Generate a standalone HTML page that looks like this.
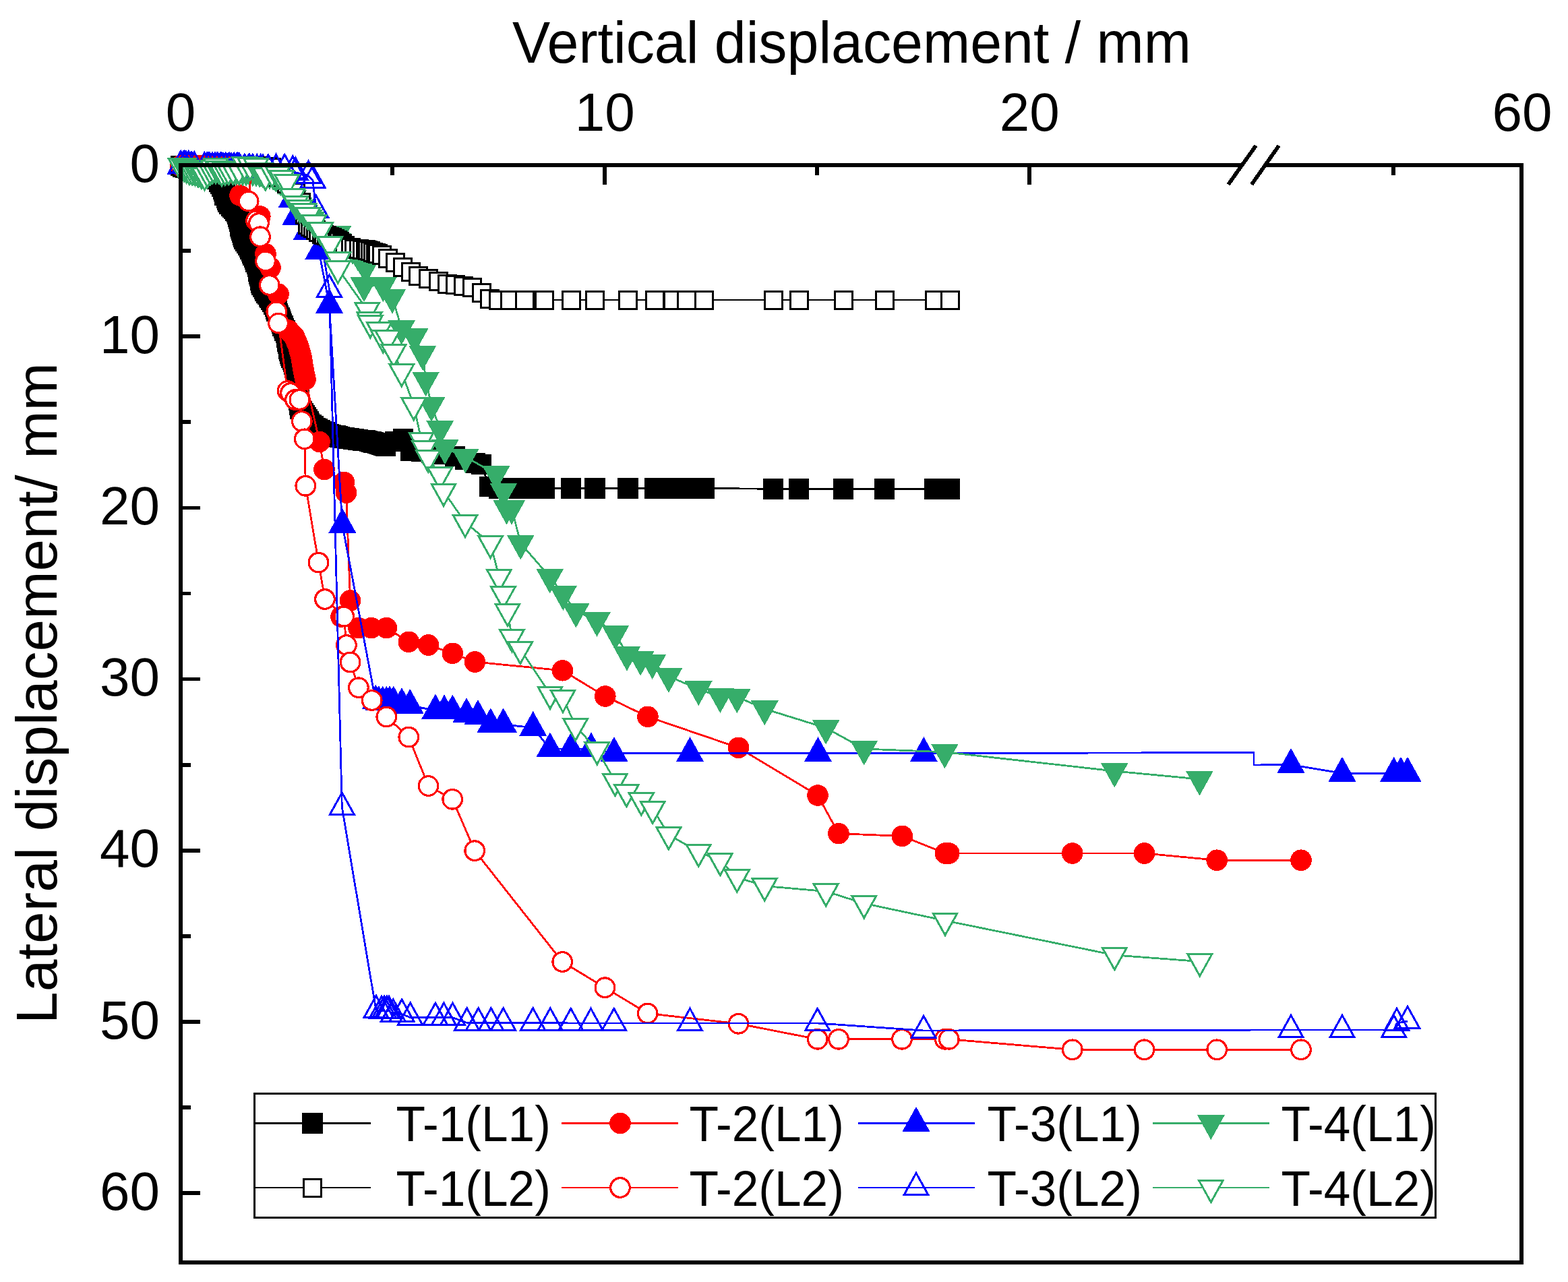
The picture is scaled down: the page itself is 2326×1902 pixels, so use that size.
<!DOCTYPE html><html><head><meta charset="utf-8"><style>html,body{margin:0;padding:0;background:#fff}svg{display:block}text{font-family:"Liberation Sans",Arial,sans-serif;fill:#000}</style></head><body>
<svg xmlns="http://www.w3.org/2000/svg" width="2326" height="1902" viewBox="0 0 2326 1902" shape-rendering="crispEdges">
<rect x="0" y="0" width="2326" height="1902" fill="#fff"/>
<polyline points="268,246 271.5,247.5 275,249 278.8,250 282.5,251 286.2,252 290,253 293,254 296,255 299,256 302,257 305,258 308.3,259.3 311.7,260.7 315,262 318.8,264 322.5,266 324.9,269.4 327.4,272.9 329.2,276.9 331,280.8 331.9,283.8 332.8,286.7 333.7,289.7 336,293.8 337.1,296.6 338.2,299.4 340.6,302.6 343,305.8 345.1,307.9 347.2,309.9 349,312.3 350.9,314.7 352,318.1 353.2,321.5 354.3,324.9 355.1,328.3 355.8,331.8 356.6,335.2 357.3,338.7 358.3,341.9 359.2,345.1 360.2,348.4 361.1,351.6 362.1,354.8 364.1,357.9 366,360.9 368,364 369.8,366.9 371.5,369.9 373.3,372.8 374.5,375.9 375.6,378.9 376.8,381.9 378,385 379.4,388.5 380.9,392.1 382.3,395.6 383,399.2 383.6,402.8 384.3,406.4 385,410 385.9,413.1 386.7,416.2 387.5,419.3 388.4,422.4 390.1,425.4 391.9,428.4 393.6,431.5 395.3,434.5 397.1,437 398.9,439.6 400.7,442.1 402.5,444.6 404.3,448.1 406.2,451.5 408,455 409.2,458.2 410.5,461.5 411.8,464.8 413,468 414.2,471 415.5,474 416.8,477 418,480 419.6,483.4 421.1,486.9 422.6,490.3 424.2,493.7 424.8,497 425.3,500.2 425.9,503.5 426.4,506.7 427,510 427.9,513.7 428.7,517.4 429.5,521.1 430.4,524.8 431.5,527.8 432.7,530.9 433.9,534 435,537 436.1,540.2 437.2,543.4 438.3,546.6 439.4,549.8 439.7,553.2 439.9,556.5 440.2,559.9 440.5,563.3 440.7,566.6 441,570 441.3,573.3 441.7,576.7 442,580 442.3,583.3 442.7,586.7 443,590 443.4,593.4 443.9,596.8 444.3,600.2 444.8,603.6 445.2,607 447.4,610.1 449.5,613.1 451.6,616.2 453.8,619.3 455.5,622.1 457.3,625 459,627.8 461.9,630.1 464.9,632.5 467.8,634.8 471.2,636.5 474.6,638.2 478,639.9 481.4,641.6 484.8,643.3 488,644.1 491.1,645 494.3,645.8 497.5,646.6 500.6,647.5 503.8,648.3 507.2,648.8 510.7,649.4 514.1,649.9 517.5,650.4 520.9,650.9 524.4,651.5 527.8,652 531.2,652.4 534.6,652.8 538,653.2 541.4,653.6 544.8,654 547.8,654.8 550.9,655.5 554,656.2 557,657 560,658 563,659 566,660 569,661 572,662 586,655 598,651 609,669 625,670 640,672 658,674 675,677 690,682 705,687 714,689 726,722 740,724.5 756,724.5 778,724.5 807.5,724.5 847,724.5 882.5,724.5 931.5,724.5 971,724.5 998,724.5 1018.5,724.5 1044.7,724.5 1147,725.3 1185,725.3 1251,725.3 1312,725.3 1386,725.3 1409,725.3" fill="none" stroke="#000" stroke-width="2.8" stroke-linejoin="round"/>
<g fill="#000">
<rect x="252.8" y="230.8" width="30.5" height="30.5"/>
<rect x="256.2" y="232.2" width="30.5" height="30.5"/>
<rect x="259.8" y="233.8" width="30.5" height="30.5"/>
<rect x="263.5" y="234.8" width="30.5" height="30.5"/>
<rect x="267.2" y="235.8" width="30.5" height="30.5"/>
<rect x="271" y="236.8" width="30.5" height="30.5"/>
<rect x="274.8" y="237.8" width="30.5" height="30.5"/>
<rect x="277.8" y="238.8" width="30.5" height="30.5"/>
<rect x="280.8" y="239.8" width="30.5" height="30.5"/>
<rect x="283.8" y="240.8" width="30.5" height="30.5"/>
<rect x="286.8" y="241.8" width="30.5" height="30.5"/>
<rect x="289.8" y="242.8" width="30.5" height="30.5"/>
<rect x="293.1" y="244.1" width="30.5" height="30.5"/>
<rect x="296.4" y="245.4" width="30.5" height="30.5"/>
<rect x="299.8" y="246.8" width="30.5" height="30.5"/>
<rect x="303.5" y="248.8" width="30.5" height="30.5"/>
<rect x="307.2" y="250.8" width="30.5" height="30.5"/>
<rect x="309.7" y="254.2" width="30.5" height="30.5"/>
<rect x="312.1" y="257.6" width="30.5" height="30.5"/>
<rect x="313.9" y="261.6" width="30.5" height="30.5"/>
<rect x="315.8" y="265.6" width="30.5" height="30.5"/>
<rect x="316.6" y="268.5" width="30.5" height="30.5"/>
<rect x="317.6" y="271.5" width="30.5" height="30.5"/>
<rect x="318.4" y="274.4" width="30.5" height="30.5"/>
<rect x="320.8" y="278.6" width="30.5" height="30.5"/>
<rect x="321.9" y="281.4" width="30.5" height="30.5"/>
<rect x="322.9" y="284.1" width="30.5" height="30.5"/>
<rect x="325.4" y="287.4" width="30.5" height="30.5"/>
<rect x="327.8" y="290.6" width="30.5" height="30.5"/>
<rect x="329.9" y="292.6" width="30.5" height="30.5"/>
<rect x="331.9" y="294.6" width="30.5" height="30.5"/>
<rect x="333.8" y="297" width="30.5" height="30.5"/>
<rect x="335.6" y="299.4" width="30.5" height="30.5"/>
<rect x="336.8" y="302.8" width="30.5" height="30.5"/>
<rect x="337.9" y="306.2" width="30.5" height="30.5"/>
<rect x="339.1" y="309.6" width="30.5" height="30.5"/>
<rect x="339.8" y="313.1" width="30.5" height="30.5"/>
<rect x="340.6" y="316.5" width="30.5" height="30.5"/>
<rect x="341.3" y="320" width="30.5" height="30.5"/>
<rect x="342.1" y="323.4" width="30.5" height="30.5"/>
<rect x="343" y="326.7" width="30.5" height="30.5"/>
<rect x="344" y="329.9" width="30.5" height="30.5"/>
<rect x="344.9" y="333.1" width="30.5" height="30.5"/>
<rect x="345.9" y="336.3" width="30.5" height="30.5"/>
<rect x="346.9" y="339.6" width="30.5" height="30.5"/>
<rect x="348.8" y="342.6" width="30.5" height="30.5"/>
<rect x="350.8" y="345.7" width="30.5" height="30.5"/>
<rect x="352.8" y="348.8" width="30.5" height="30.5"/>
<rect x="354.5" y="351.7" width="30.5" height="30.5"/>
<rect x="356.3" y="354.6" width="30.5" height="30.5"/>
<rect x="358.1" y="357.6" width="30.5" height="30.5"/>
<rect x="359.2" y="360.6" width="30.5" height="30.5"/>
<rect x="360.4" y="363.6" width="30.5" height="30.5"/>
<rect x="361.6" y="366.7" width="30.5" height="30.5"/>
<rect x="362.8" y="369.8" width="30.5" height="30.5"/>
<rect x="364.2" y="373.3" width="30.5" height="30.5"/>
<rect x="365.6" y="376.8" width="30.5" height="30.5"/>
<rect x="367.1" y="380.4" width="30.5" height="30.5"/>
<rect x="367.7" y="384" width="30.5" height="30.5"/>
<rect x="368.4" y="387.6" width="30.5" height="30.5"/>
<rect x="369.1" y="391.1" width="30.5" height="30.5"/>
<rect x="369.8" y="394.8" width="30.5" height="30.5"/>
<rect x="370.6" y="397.9" width="30.5" height="30.5"/>
<rect x="371.4" y="400.9" width="30.5" height="30.5"/>
<rect x="372.3" y="404" width="30.5" height="30.5"/>
<rect x="373.1" y="407.1" width="30.5" height="30.5"/>
<rect x="374.9" y="410.2" width="30.5" height="30.5"/>
<rect x="376.6" y="413.2" width="30.5" height="30.5"/>
<rect x="378.3" y="416.2" width="30.5" height="30.5"/>
<rect x="380.1" y="419.2" width="30.5" height="30.5"/>
<rect x="381.9" y="421.8" width="30.5" height="30.5"/>
<rect x="383.6" y="424.3" width="30.5" height="30.5"/>
<rect x="385.4" y="426.8" width="30.5" height="30.5"/>
<rect x="387.2" y="429.4" width="30.5" height="30.5"/>
<rect x="389.1" y="432.8" width="30.5" height="30.5"/>
<rect x="390.9" y="436.3" width="30.5" height="30.5"/>
<rect x="392.8" y="439.8" width="30.5" height="30.5"/>
<rect x="394" y="443" width="30.5" height="30.5"/>
<rect x="395.2" y="446.2" width="30.5" height="30.5"/>
<rect x="396.5" y="449.5" width="30.5" height="30.5"/>
<rect x="397.8" y="452.8" width="30.5" height="30.5"/>
<rect x="399" y="455.8" width="30.5" height="30.5"/>
<rect x="400.2" y="458.8" width="30.5" height="30.5"/>
<rect x="401.5" y="461.8" width="30.5" height="30.5"/>
<rect x="402.8" y="464.8" width="30.5" height="30.5"/>
<rect x="404.3" y="468.2" width="30.5" height="30.5"/>
<rect x="405.9" y="471.6" width="30.5" height="30.5"/>
<rect x="407.4" y="475" width="30.5" height="30.5"/>
<rect x="408.9" y="478.4" width="30.5" height="30.5"/>
<rect x="409.5" y="481.7" width="30.5" height="30.5"/>
<rect x="410.1" y="485" width="30.5" height="30.5"/>
<rect x="410.6" y="488.2" width="30.5" height="30.5"/>
<rect x="411.2" y="491.5" width="30.5" height="30.5"/>
<rect x="411.8" y="494.8" width="30.5" height="30.5"/>
<rect x="412.6" y="498.5" width="30.5" height="30.5"/>
<rect x="413.4" y="502.1" width="30.5" height="30.5"/>
<rect x="414.3" y="505.8" width="30.5" height="30.5"/>
<rect x="415.1" y="509.5" width="30.5" height="30.5"/>
<rect x="416.3" y="512.6" width="30.5" height="30.5"/>
<rect x="417.4" y="515.6" width="30.5" height="30.5"/>
<rect x="418.6" y="518.7" width="30.5" height="30.5"/>
<rect x="419.8" y="521.8" width="30.5" height="30.5"/>
<rect x="420.9" y="525" width="30.5" height="30.5"/>
<rect x="421.9" y="528.1" width="30.5" height="30.5"/>
<rect x="423" y="531.3" width="30.5" height="30.5"/>
<rect x="424.1" y="534.5" width="30.5" height="30.5"/>
<rect x="424.4" y="537.9" width="30.5" height="30.5"/>
<rect x="424.7" y="541.3" width="30.5" height="30.5"/>
<rect x="424.9" y="544.6" width="30.5" height="30.5"/>
<rect x="425.2" y="548" width="30.5" height="30.5"/>
<rect x="425.5" y="551.4" width="30.5" height="30.5"/>
<rect x="425.8" y="554.8" width="30.5" height="30.5"/>
<rect x="426.1" y="558.1" width="30.5" height="30.5"/>
<rect x="426.4" y="561.4" width="30.5" height="30.5"/>
<rect x="426.8" y="564.8" width="30.5" height="30.5"/>
<rect x="427.1" y="568.1" width="30.5" height="30.5"/>
<rect x="427.4" y="571.4" width="30.5" height="30.5"/>
<rect x="427.8" y="574.8" width="30.5" height="30.5"/>
<rect x="428.2" y="578.1" width="30.5" height="30.5"/>
<rect x="428.6" y="581.5" width="30.5" height="30.5"/>
<rect x="429.1" y="585" width="30.5" height="30.5"/>
<rect x="429.5" y="588.4" width="30.5" height="30.5"/>
<rect x="429.9" y="591.8" width="30.5" height="30.5"/>
<rect x="432.1" y="594.8" width="30.5" height="30.5"/>
<rect x="434.2" y="597.9" width="30.5" height="30.5"/>
<rect x="436.4" y="601" width="30.5" height="30.5"/>
<rect x="438.6" y="604" width="30.5" height="30.5"/>
<rect x="440.3" y="606.9" width="30.5" height="30.5"/>
<rect x="442" y="609.7" width="30.5" height="30.5"/>
<rect x="443.8" y="612.5" width="30.5" height="30.5"/>
<rect x="446.7" y="614.9" width="30.5" height="30.5"/>
<rect x="449.6" y="617.2" width="30.5" height="30.5"/>
<rect x="452.6" y="619.5" width="30.5" height="30.5"/>
<rect x="455.9" y="621.2" width="30.5" height="30.5"/>
<rect x="459.4" y="622.9" width="30.5" height="30.5"/>
<rect x="462.8" y="624.6" width="30.5" height="30.5"/>
<rect x="466.2" y="626.3" width="30.5" height="30.5"/>
<rect x="469.6" y="628" width="30.5" height="30.5"/>
<rect x="472.7" y="628.9" width="30.5" height="30.5"/>
<rect x="475.9" y="629.7" width="30.5" height="30.5"/>
<rect x="479.1" y="630.5" width="30.5" height="30.5"/>
<rect x="482.2" y="631.4" width="30.5" height="30.5"/>
<rect x="485.4" y="632.2" width="30.5" height="30.5"/>
<rect x="488.6" y="633" width="30.5" height="30.5"/>
<rect x="492" y="633.6" width="30.5" height="30.5"/>
<rect x="495.4" y="634.1" width="30.5" height="30.5"/>
<rect x="498.8" y="634.6" width="30.5" height="30.5"/>
<rect x="502.3" y="635.2" width="30.5" height="30.5"/>
<rect x="505.7" y="635.7" width="30.5" height="30.5"/>
<rect x="509.1" y="636.2" width="30.5" height="30.5"/>
<rect x="512.5" y="636.8" width="30.5" height="30.5"/>
<rect x="515.9" y="637.1" width="30.5" height="30.5"/>
<rect x="519.3" y="637.5" width="30.5" height="30.5"/>
<rect x="522.8" y="638" width="30.5" height="30.5"/>
<rect x="526.1" y="638.4" width="30.5" height="30.5"/>
<rect x="529.5" y="638.8" width="30.5" height="30.5"/>
<rect x="532.6" y="639.5" width="30.5" height="30.5"/>
<rect x="535.6" y="640.2" width="30.5" height="30.5"/>
<rect x="538.7" y="641" width="30.5" height="30.5"/>
<rect x="541.8" y="641.8" width="30.5" height="30.5"/>
<rect x="544.8" y="642.8" width="30.5" height="30.5"/>
<rect x="547.8" y="643.8" width="30.5" height="30.5"/>
<rect x="550.8" y="644.8" width="30.5" height="30.5"/>
<rect x="553.8" y="645.8" width="30.5" height="30.5"/>
<rect x="556.8" y="646.8" width="30.5" height="30.5"/>
<rect x="570.8" y="639.8" width="30.5" height="30.5"/>
<rect x="582.8" y="635.8" width="30.5" height="30.5"/>
<rect x="593.8" y="653.8" width="30.5" height="30.5"/>
<rect x="609.8" y="654.8" width="30.5" height="30.5"/>
<rect x="624.8" y="656.8" width="30.5" height="30.5"/>
<rect x="642.8" y="658.8" width="30.5" height="30.5"/>
<rect x="659.8" y="661.8" width="30.5" height="30.5"/>
<rect x="674.8" y="666.8" width="30.5" height="30.5"/>
<rect x="689.8" y="671.8" width="30.5" height="30.5"/>
<rect x="698.8" y="673.8" width="30.5" height="30.5"/>
<rect x="710.8" y="706.8" width="30.5" height="30.5"/>
<rect x="724.8" y="709.2" width="30.5" height="30.5"/>
<rect x="740.8" y="709.2" width="30.5" height="30.5"/>
<rect x="762.8" y="709.2" width="30.5" height="30.5"/>
<rect x="792.2" y="709.2" width="30.5" height="30.5"/>
<rect x="831.8" y="709.2" width="30.5" height="30.5"/>
<rect x="867.2" y="709.2" width="30.5" height="30.5"/>
<rect x="916.2" y="709.2" width="30.5" height="30.5"/>
<rect x="955.8" y="709.2" width="30.5" height="30.5"/>
<rect x="982.8" y="709.2" width="30.5" height="30.5"/>
<rect x="1003.2" y="709.2" width="30.5" height="30.5"/>
<rect x="1029.5" y="709.2" width="30.5" height="30.5"/>
<rect x="1131.8" y="710" width="30.5" height="30.5"/>
<rect x="1169.8" y="710" width="30.5" height="30.5"/>
<rect x="1235.8" y="710" width="30.5" height="30.5"/>
<rect x="1296.8" y="710" width="30.5" height="30.5"/>
<rect x="1370.8" y="710" width="30.5" height="30.5"/>
<rect x="1393.8" y="710" width="30.5" height="30.5"/>
</g>
<polyline points="268,246 278,247 292,247 306,247 320,247 334,248 345,256 356,290 385.8,321 394,376.7 401,397 413,436.3 428,490 431,493.3 434,496.7 437,500 438.5,503.8 440,507.5 441.5,511.2 443,515 444,518.8 445,522.5 446,526.2 447,530 447.6,533.6 448.2,537.2 448.8,540.8 449.4,544.4 450,548 450.8,551.8 451.5,555.5 452.2,559.2 453,563 474,655.5 481,696.5 510.4,715.5 513.5,731 519.6,891 506,915 531.9,931.6 550.7,931.6 573.3,931.6 606.3,952.3 635.5,957 671.3,969.3 704.4,982 834.5,994.8 897.8,1033 960.9,1063.3 1095.5,1109.3 1213,1180 1244,1236.7 1338.3,1240.4 1402.3,1266 1407.8,1266 1590.8,1266 1697.5,1266 1805.2,1276.2 1930,1276.2" fill="none" stroke="#f00" stroke-width="2.8" stroke-linejoin="round"/>
<g fill="#f00">
<circle cx="268" cy="246" r="15.8"/>
<circle cx="278" cy="247" r="15.8"/>
<circle cx="292" cy="247" r="15.8"/>
<circle cx="306" cy="247" r="15.8"/>
<circle cx="320" cy="247" r="15.8"/>
<circle cx="334" cy="248" r="15.8"/>
<circle cx="345" cy="256" r="15.8"/>
<circle cx="356" cy="290" r="15.8"/>
<circle cx="385.8" cy="321" r="15.8"/>
<circle cx="394" cy="376.7" r="15.8"/>
<circle cx="401" cy="397" r="15.8"/>
<circle cx="413" cy="436.3" r="15.8"/>
<circle cx="428" cy="490" r="15.8"/>
<circle cx="431" cy="493.3" r="15.8"/>
<circle cx="434" cy="496.7" r="15.8"/>
<circle cx="437" cy="500" r="15.8"/>
<circle cx="438.5" cy="503.8" r="15.8"/>
<circle cx="440" cy="507.5" r="15.8"/>
<circle cx="441.5" cy="511.2" r="15.8"/>
<circle cx="443" cy="515" r="15.8"/>
<circle cx="444" cy="518.8" r="15.8"/>
<circle cx="445" cy="522.5" r="15.8"/>
<circle cx="446" cy="526.2" r="15.8"/>
<circle cx="447" cy="530" r="15.8"/>
<circle cx="447.6" cy="533.6" r="15.8"/>
<circle cx="448.2" cy="537.2" r="15.8"/>
<circle cx="448.8" cy="540.8" r="15.8"/>
<circle cx="449.4" cy="544.4" r="15.8"/>
<circle cx="450" cy="548" r="15.8"/>
<circle cx="450.8" cy="551.8" r="15.8"/>
<circle cx="451.5" cy="555.5" r="15.8"/>
<circle cx="452.2" cy="559.2" r="15.8"/>
<circle cx="453" cy="563" r="15.8"/>
<circle cx="474" cy="655.5" r="15.8"/>
<circle cx="481" cy="696.5" r="15.8"/>
<circle cx="510.4" cy="715.5" r="15.8"/>
<circle cx="513.5" cy="731" r="15.8"/>
<circle cx="519.6" cy="891" r="15.8"/>
<circle cx="506" cy="915" r="15.8"/>
<circle cx="531.9" cy="931.6" r="15.8"/>
<circle cx="550.7" cy="931.6" r="15.8"/>
<circle cx="573.3" cy="931.6" r="15.8"/>
<circle cx="606.3" cy="952.3" r="15.8"/>
<circle cx="635.5" cy="957" r="15.8"/>
<circle cx="671.3" cy="969.3" r="15.8"/>
<circle cx="704.4" cy="982" r="15.8"/>
<circle cx="834.5" cy="994.8" r="15.8"/>
<circle cx="897.8" cy="1033" r="15.8"/>
<circle cx="960.9" cy="1063.3" r="15.8"/>
<circle cx="1095.5" cy="1109.3" r="15.8"/>
<circle cx="1213" cy="1180" r="15.8"/>
<circle cx="1244" cy="1236.7" r="15.8"/>
<circle cx="1338.3" cy="1240.4" r="15.8"/>
<circle cx="1402.3" cy="1266" r="15.8"/>
<circle cx="1407.8" cy="1266" r="15.8"/>
<circle cx="1590.8" cy="1266" r="15.8"/>
<circle cx="1697.5" cy="1266" r="15.8"/>
<circle cx="1805.2" cy="1276.2" r="15.8"/>
<circle cx="1930" cy="1276.2" r="15.8"/>
</g>
<polyline points="268,246.5 272,246.7 276,246.9 280,247.1 284,247.3 288,247.5 303,249 307,249 311,249.1 315,249.1 319,249.2 323,249.2 327,249.2 331,249.3 335,249.3 339,249.3 343,249.4 347,249.4 351,249.5 355,249.5 370,251 390,252 410,255 433,296 439,321.3 455,344 473,372.2 488.5,452.4 507.8,778.4 557.3,1040 562,1042 567.7,1042 573.3,1042 578,1042 583.7,1042 596,1044.8 608.2,1046.6 645.9,1054.2 659,1055.1 671.3,1055.1 692,1059.8 709,1062.6 727.8,1074.9 746.7,1074.9 790.7,1079.6 815.9,1111 847,1111 877,1111 911,1117.6 1023.5,1117.6 1213.5,1117.7 1370.3,1117.7 1860,1116.5 1860,1135 1915,1134.5 1991,1147.3 2067.7,1147.3 2078,1147.3 2088,1147.3" fill="none" stroke="#00f" stroke-width="2.8" stroke-linejoin="round"/>
<g fill="#00f">
<polygon points="268,221.9 247.5,258.8 288.5,258.8"/>
<polygon points="272,222.1 251.5,259 292.5,259"/>
<polygon points="276,222.3 255.5,259.2 296.5,259.2"/>
<polygon points="280,222.5 259.5,259.4 300.5,259.4"/>
<polygon points="284,222.7 263.5,259.6 304.5,259.6"/>
<polygon points="288,222.9 267.5,259.8 308.5,259.8"/>
<polygon points="303,224.4 282.5,261.3 323.5,261.3"/>
<polygon points="307,224.4 286.5,261.3 327.5,261.3"/>
<polygon points="311,224.5 290.5,261.4 331.5,261.4"/>
<polygon points="315,224.5 294.5,261.4 335.5,261.4"/>
<polygon points="319,224.6 298.5,261.5 339.5,261.5"/>
<polygon points="323,224.6 302.5,261.5 343.5,261.5"/>
<polygon points="327,224.6 306.5,261.5 347.5,261.5"/>
<polygon points="331,224.7 310.5,261.6 351.5,261.6"/>
<polygon points="335,224.7 314.5,261.6 355.5,261.6"/>
<polygon points="339,224.7 318.5,261.6 359.5,261.6"/>
<polygon points="343,224.8 322.5,261.7 363.5,261.7"/>
<polygon points="347,224.8 326.5,261.7 367.5,261.7"/>
<polygon points="351,224.9 330.5,261.8 371.5,261.8"/>
<polygon points="355,224.9 334.5,261.8 375.5,261.8"/>
<polygon points="370,226.4 349.5,263.3 390.5,263.3"/>
<polygon points="390,227.4 369.5,264.3 410.5,264.3"/>
<polygon points="410,230.4 389.5,267.3 430.5,267.3"/>
<polygon points="433,271.4 412.5,308.3 453.5,308.3"/>
<polygon points="439,296.7 418.5,333.6 459.5,333.6"/>
<polygon points="455,319.4 434.5,356.3 475.5,356.3"/>
<polygon points="473,347.6 452.5,384.5 493.5,384.5"/>
<polygon points="488.5,427.8 468,464.7 509,464.7"/>
<polygon points="507.8,753.8 487.3,790.7 528.3,790.7"/>
<polygon points="557.3,1015.4 536.8,1052.3 577.8,1052.3"/>
<polygon points="562,1017.4 541.5,1054.3 582.5,1054.3"/>
<polygon points="567.7,1017.4 547.2,1054.3 588.2,1054.3"/>
<polygon points="573.3,1017.4 552.8,1054.3 593.8,1054.3"/>
<polygon points="578,1017.4 557.5,1054.3 598.5,1054.3"/>
<polygon points="583.7,1017.4 563.2,1054.3 604.2,1054.3"/>
<polygon points="596,1020.2 575.5,1057.1 616.5,1057.1"/>
<polygon points="608.2,1022 587.7,1058.9 628.7,1058.9"/>
<polygon points="645.9,1029.6 625.4,1066.5 666.4,1066.5"/>
<polygon points="659,1030.5 638.5,1067.4 679.5,1067.4"/>
<polygon points="671.3,1030.5 650.8,1067.4 691.8,1067.4"/>
<polygon points="692,1035.2 671.5,1072.1 712.5,1072.1"/>
<polygon points="709,1038 688.5,1074.9 729.5,1074.9"/>
<polygon points="727.8,1050.3 707.3,1087.2 748.3,1087.2"/>
<polygon points="746.7,1050.3 726.2,1087.2 767.2,1087.2"/>
<polygon points="790.7,1055 770.2,1091.9 811.2,1091.9"/>
<polygon points="815.9,1086.4 795.4,1123.3 836.4,1123.3"/>
<polygon points="847,1086.4 826.5,1123.3 867.5,1123.3"/>
<polygon points="877,1086.4 856.5,1123.3 897.5,1123.3"/>
<polygon points="911,1093 890.5,1129.9 931.5,1129.9"/>
<polygon points="1023.5,1093 1003,1129.9 1044,1129.9"/>
<polygon points="1213.5,1093.1 1193,1130 1234,1130"/>
<polygon points="1370.3,1093.1 1349.8,1130 1390.8,1130"/>
<polygon points="1915,1109.9 1894.5,1146.8 1935.5,1146.8"/>
<polygon points="1991,1122.7 1970.5,1159.6 2011.5,1159.6"/>
<polygon points="2067.7,1122.7 2047.2,1159.6 2088.2,1159.6"/>
<polygon points="2078,1122.7 2057.5,1159.6 2098.5,1159.6"/>
<polygon points="2088,1122.7 2067.5,1159.6 2108.5,1159.6"/>
</g>
<polyline points="268,246 273.3,246.7 278.7,247.3 284,248 289.3,248.7 294.7,249.3 300,250 305,250.1 310,250.2 315,250.4 320,250.5 325,250.6 330,250.8 335,250.9 340,251 345,251.2 350,251.5 355,251.8 360,252 365,252.2 370,252.5 375,252.8 380,253 385,254 390,255 395,256 400,257 405,258 408.8,261 412.5,264 416.2,267 420,270 422.4,274 424.8,278 427.2,282 429.6,286 432,290 434.7,294 437.3,298 440,302 443,305.5 446,309 449,312.5 452,316 455.2,319.5 458.5,323 461.8,326.5 465,330 500.9,347.3 500.5,358.3 523,368 531,378 542.4,397 540,423.5 568.3,423.5 582,441 595.6,487.2 615,499.5 626.9,525.1 631.6,563.8 640,601.3 652.7,636.3 660,664.7 690.3,677.8 736,703.4 746.9,728.8 751.6,754 759,754 772.3,806 815.7,856 835.4,881.4 854.3,906.9 885.5,920.3 913,940 930,971 950.2,978 967.7,983.3 991.9,1003.3 1036.2,1022.5 1068.4,1033.5 1093.3,1033.8 1134.2,1051.7 1225.2,1080 1281.7,1111 1401.4,1115.8 1653.3,1144 1779.4,1156" fill="none" stroke="#36AD6A" stroke-width="2.8" stroke-linejoin="round"/>
<g fill="#36AD6A">
<polygon points="268,270.6 247.5,233.7 288.5,233.7"/>
<polygon points="273.3,271.3 252.8,234.4 293.8,234.4"/>
<polygon points="278.7,271.9 258.2,235 299.2,235"/>
<polygon points="284,272.6 263.5,235.7 304.5,235.7"/>
<polygon points="289.3,273.3 268.8,236.4 309.8,236.4"/>
<polygon points="294.7,273.9 274.2,237 315.2,237"/>
<polygon points="300,274.6 279.5,237.7 320.5,237.7"/>
<polygon points="305,274.7 284.5,237.8 325.5,237.8"/>
<polygon points="310,274.9 289.5,237.9 330.5,237.9"/>
<polygon points="315,275 294.5,238.1 335.5,238.1"/>
<polygon points="320,275.1 299.5,238.2 340.5,238.2"/>
<polygon points="325,275.2 304.5,238.3 345.5,238.3"/>
<polygon points="330,275.4 309.5,238.4 350.5,238.4"/>
<polygon points="335,275.5 314.5,238.6 355.5,238.6"/>
<polygon points="340,275.6 319.5,238.7 360.5,238.7"/>
<polygon points="345,275.9 324.5,238.9 365.5,238.9"/>
<polygon points="350,276.1 329.5,239.2 370.5,239.2"/>
<polygon points="355,276.4 334.5,239.4 375.5,239.4"/>
<polygon points="360,276.6 339.5,239.7 380.5,239.7"/>
<polygon points="365,276.9 344.5,239.9 385.5,239.9"/>
<polygon points="370,277.1 349.5,240.2 390.5,240.2"/>
<polygon points="375,277.4 354.5,240.4 395.5,240.4"/>
<polygon points="380,277.6 359.5,240.7 400.5,240.7"/>
<polygon points="385,278.6 364.5,241.7 405.5,241.7"/>
<polygon points="390,279.6 369.5,242.7 410.5,242.7"/>
<polygon points="395,280.6 374.5,243.7 415.5,243.7"/>
<polygon points="400,281.6 379.5,244.7 420.5,244.7"/>
<polygon points="405,282.6 384.5,245.7 425.5,245.7"/>
<polygon points="408.8,285.6 388.2,248.7 429.2,248.7"/>
<polygon points="412.5,288.6 392,251.7 433,251.7"/>
<polygon points="416.2,291.6 395.8,254.7 436.8,254.7"/>
<polygon points="420,294.6 399.5,257.7 440.5,257.7"/>
<polygon points="422.4,298.6 401.9,261.7 442.9,261.7"/>
<polygon points="424.8,302.6 404.3,265.7 445.3,265.7"/>
<polygon points="427.2,306.6 406.7,269.7 447.7,269.7"/>
<polygon points="429.6,310.6 409.1,273.7 450.1,273.7"/>
<polygon points="432,314.6 411.5,277.7 452.5,277.7"/>
<polygon points="434.7,318.6 414.2,281.7 455.2,281.7"/>
<polygon points="437.3,322.6 416.8,285.7 457.8,285.7"/>
<polygon points="440,326.6 419.5,289.7 460.5,289.7"/>
<polygon points="443,330.1 422.5,293.2 463.5,293.2"/>
<polygon points="446,333.6 425.5,296.7 466.5,296.7"/>
<polygon points="449,337.1 428.5,300.2 469.5,300.2"/>
<polygon points="452,340.6 431.5,303.7 472.5,303.7"/>
<polygon points="455.2,344.1 434.8,307.2 475.8,307.2"/>
<polygon points="458.5,347.6 438,310.7 479,310.7"/>
<polygon points="461.8,351.1 441.2,314.2 482.2,314.2"/>
<polygon points="465,354.6 444.5,317.7 485.5,317.7"/>
<polygon points="500.9,371.9 480.4,335 521.4,335"/>
<polygon points="500.5,382.9 480,346 521,346"/>
<polygon points="523,392.6 502.5,355.7 543.5,355.7"/>
<polygon points="531,402.6 510.5,365.7 551.5,365.7"/>
<polygon points="542.4,421.6 521.9,384.7 562.9,384.7"/>
<polygon points="540,448.1 519.5,411.2 560.5,411.2"/>
<polygon points="568.3,448.1 547.8,411.2 588.8,411.2"/>
<polygon points="582,465.6 561.5,428.7 602.5,428.7"/>
<polygon points="595.6,511.8 575.1,474.9 616.1,474.9"/>
<polygon points="615,524.1 594.5,487.2 635.5,487.2"/>
<polygon points="626.9,549.7 606.4,512.8 647.4,512.8"/>
<polygon points="631.6,588.4 611.1,551.5 652.1,551.5"/>
<polygon points="640,625.9 619.5,589 660.5,589"/>
<polygon points="652.7,660.9 632.2,624 673.2,624"/>
<polygon points="660,689.3 639.5,652.4 680.5,652.4"/>
<polygon points="690.3,702.4 669.8,665.5 710.8,665.5"/>
<polygon points="736,728 715.5,691.1 756.5,691.1"/>
<polygon points="746.9,753.4 726.4,716.5 767.4,716.5"/>
<polygon points="751.6,778.6 731.1,741.7 772.1,741.7"/>
<polygon points="759,778.6 738.5,741.7 779.5,741.7"/>
<polygon points="772.3,830.6 751.8,793.7 792.8,793.7"/>
<polygon points="815.7,880.6 795.2,843.7 836.2,843.7"/>
<polygon points="835.4,906 814.9,869.1 855.9,869.1"/>
<polygon points="854.3,931.5 833.8,894.6 874.8,894.6"/>
<polygon points="885.5,944.9 865,908 906,908"/>
<polygon points="913,964.6 892.5,927.7 933.5,927.7"/>
<polygon points="930,995.6 909.5,958.7 950.5,958.7"/>
<polygon points="950.2,1002.6 929.7,965.7 970.7,965.7"/>
<polygon points="967.7,1007.9 947.2,971 988.2,971"/>
<polygon points="991.9,1027.9 971.4,991 1012.4,991"/>
<polygon points="1036.2,1047.1 1015.7,1010.2 1056.7,1010.2"/>
<polygon points="1068.4,1058.1 1047.9,1021.2 1088.9,1021.2"/>
<polygon points="1093.3,1058.4 1072.8,1021.5 1113.8,1021.5"/>
<polygon points="1134.2,1076.3 1113.7,1039.4 1154.7,1039.4"/>
<polygon points="1225.2,1104.6 1204.7,1067.7 1245.7,1067.7"/>
<polygon points="1281.7,1135.6 1261.2,1098.7 1302.2,1098.7"/>
<polygon points="1401.4,1140.4 1380.9,1103.5 1421.9,1103.5"/>
<polygon points="1653.3,1168.6 1632.8,1131.7 1673.8,1131.7"/>
<polygon points="1779.4,1180.6 1758.9,1143.7 1799.9,1143.7"/>
</g>
<polyline points="268,246 273.3,246 278.7,246 284,246 289.3,246 294.7,246 300,246 305,246 310,246 315,246 320,246 325,246 330,246 335,246 340,246 345,246 350,246 355,246 360,246 365,246 370,246 375,246 380,246 385.5,246.5 391,247 396.5,247.5 402,248 412,262 425,272 438,285 446,300 452,318 456,328 456.8,333.7 460.7,336.1 464.5,338.6 468.4,341 472.8,344 477.1,347 480.7,348.3 484.4,349.7 488,351 492,352.7 496,354.3 500,356 503.9,358.8 507.9,361.7 511.8,364.5 520.1,367.2 525.3,369.1 532.9,369.5 537.4,370.3 542.3,370.8 545.3,371.4 549.5,372.5 553.2,374 557.4,375 560.4,376.3 566.8,378.5 575.8,383.5 586.8,389.6 597.7,396.6 609,403.8 620,409 635,413.5 650,417 663.5,421 675,422.5 687.5,424.6 700,426.5 714,434 726,443.5 739.5,445 756,445 778,445 807.5,445 847,445 882.5,445 931.5,445 971,445 998,445 1018.5,445 1044.7,445 1147,445 1185,445 1251,445 1312,445 1386,445 1409,445" fill="none" stroke="#000" stroke-width="2.8" stroke-linejoin="round"/>
<g fill="#fff" stroke="#000" stroke-width="3">
<rect x="255" y="233" width="26" height="26"/>
<rect x="260.3" y="233" width="26" height="26"/>
<rect x="265.7" y="233" width="26" height="26"/>
<rect x="271" y="233" width="26" height="26"/>
<rect x="276.3" y="233" width="26" height="26"/>
<rect x="281.7" y="233" width="26" height="26"/>
<rect x="287" y="233" width="26" height="26"/>
<rect x="292" y="233" width="26" height="26"/>
<rect x="297" y="233" width="26" height="26"/>
<rect x="302" y="233" width="26" height="26"/>
<rect x="307" y="233" width="26" height="26"/>
<rect x="312" y="233" width="26" height="26"/>
<rect x="317" y="233" width="26" height="26"/>
<rect x="322" y="233" width="26" height="26"/>
<rect x="327" y="233" width="26" height="26"/>
<rect x="332" y="233" width="26" height="26"/>
<rect x="337" y="233" width="26" height="26"/>
<rect x="342" y="233" width="26" height="26"/>
<rect x="347" y="233" width="26" height="26"/>
<rect x="352" y="233" width="26" height="26"/>
<rect x="357" y="233" width="26" height="26"/>
<rect x="362" y="233" width="26" height="26"/>
<rect x="367" y="233" width="26" height="26"/>
<rect x="372.5" y="233.5" width="26" height="26"/>
<rect x="378" y="234" width="26" height="26"/>
<rect x="383.5" y="234.5" width="26" height="26"/>
<rect x="389" y="235" width="26" height="26"/>
<rect x="399" y="249" width="26" height="26"/>
<rect x="412" y="259" width="26" height="26"/>
<rect x="425" y="272" width="26" height="26"/>
<rect x="433" y="287" width="26" height="26"/>
<rect x="439" y="305" width="26" height="26"/>
<rect x="443" y="315" width="26" height="26"/>
<rect x="443.8" y="320.7" width="26" height="26"/>
<rect x="447.7" y="323.1" width="26" height="26"/>
<rect x="451.5" y="325.6" width="26" height="26"/>
<rect x="455.4" y="328" width="26" height="26"/>
<rect x="459.8" y="331" width="26" height="26"/>
<rect x="464.1" y="334" width="26" height="26"/>
<rect x="467.7" y="335.3" width="26" height="26"/>
<rect x="471.4" y="336.7" width="26" height="26"/>
<rect x="475" y="338" width="26" height="26"/>
<rect x="479" y="339.7" width="26" height="26"/>
<rect x="483" y="341.3" width="26" height="26"/>
<rect x="487" y="343" width="26" height="26"/>
<rect x="490.9" y="345.8" width="26" height="26"/>
<rect x="494.9" y="348.7" width="26" height="26"/>
<rect x="498.8" y="351.5" width="26" height="26"/>
<rect x="507.1" y="354.2" width="26" height="26"/>
<rect x="512.3" y="356.1" width="26" height="26"/>
<rect x="519.9" y="356.5" width="26" height="26"/>
<rect x="524.4" y="357.3" width="26" height="26"/>
<rect x="529.3" y="357.8" width="26" height="26"/>
<rect x="532.3" y="358.4" width="26" height="26"/>
<rect x="536.5" y="359.5" width="26" height="26"/>
<rect x="540.2" y="361" width="26" height="26"/>
<rect x="544.4" y="362" width="26" height="26"/>
<rect x="547.4" y="363.3" width="26" height="26"/>
<rect x="553.8" y="365.5" width="26" height="26"/>
<rect x="562.8" y="370.5" width="26" height="26"/>
<rect x="573.8" y="376.6" width="26" height="26"/>
<rect x="584.7" y="383.6" width="26" height="26"/>
<rect x="596" y="390.8" width="26" height="26"/>
<rect x="607" y="396" width="26" height="26"/>
<rect x="622" y="400.5" width="26" height="26"/>
<rect x="637" y="404" width="26" height="26"/>
<rect x="650.5" y="408" width="26" height="26"/>
<rect x="662" y="409.5" width="26" height="26"/>
<rect x="674.5" y="411.6" width="26" height="26"/>
<rect x="687" y="413.5" width="26" height="26"/>
<rect x="701" y="421" width="26" height="26"/>
<rect x="713" y="430.5" width="26" height="26"/>
<rect x="726.5" y="432" width="26" height="26"/>
<rect x="743" y="432" width="26" height="26"/>
<rect x="765" y="432" width="26" height="26"/>
<rect x="794.5" y="432" width="26" height="26"/>
<rect x="834" y="432" width="26" height="26"/>
<rect x="869.5" y="432" width="26" height="26"/>
<rect x="918.5" y="432" width="26" height="26"/>
<rect x="958" y="432" width="26" height="26"/>
<rect x="985" y="432" width="26" height="26"/>
<rect x="1005.5" y="432" width="26" height="26"/>
<rect x="1031.7" y="432" width="26" height="26"/>
<rect x="1134" y="432" width="26" height="26"/>
<rect x="1172" y="432" width="26" height="26"/>
<rect x="1238" y="432" width="26" height="26"/>
<rect x="1299" y="432" width="26" height="26"/>
<rect x="1373" y="432" width="26" height="26"/>
<rect x="1396" y="432" width="26" height="26"/>
</g>
<polyline points="268,246 273.3,246 278.7,246 284,246 289.3,246 294.7,246 300,246 305,246.1 310,246.2 315,246.4 320,246.5 325,246.6 330,246.8 335,246.9 340,247 372,262 368.7,298.5 380,327.4 384,331 386,351.2 394,387.4 399.8,423 410.3,462.2 413,479.5 426.5,580 431,583 438,593 444.4,593 447.8,625 451.8,651.3 453.3,720.8 472.5,834.6 482,889 510.2,914.6 514,957 519.6,982.5 531.9,1020.2 551.7,1039 573.3,1063.5 606.3,1093.6 635.5,1166 671.2,1185.8 704.2,1262.1 834.2,1427 897.4,1465.2 960.7,1503.5 1095.5,1518.8 1212.7,1541.8 1244,1541.8 1338,1541.8 1401.7,1541.8 1407.8,1541.8 1590.8,1557.3 1697.5,1557.3 1805.2,1557.3 1930,1557.3" fill="none" stroke="#f00" stroke-width="2.8" stroke-linejoin="round"/>
<g fill="#fff" stroke="#f00" stroke-width="3.2">
<circle cx="268" cy="246" r="14.3"/>
<circle cx="273.3" cy="246" r="14.3"/>
<circle cx="278.7" cy="246" r="14.3"/>
<circle cx="284" cy="246" r="14.3"/>
<circle cx="289.3" cy="246" r="14.3"/>
<circle cx="294.7" cy="246" r="14.3"/>
<circle cx="300" cy="246" r="14.3"/>
<circle cx="305" cy="246.1" r="14.3"/>
<circle cx="310" cy="246.2" r="14.3"/>
<circle cx="315" cy="246.4" r="14.3"/>
<circle cx="320" cy="246.5" r="14.3"/>
<circle cx="325" cy="246.6" r="14.3"/>
<circle cx="330" cy="246.8" r="14.3"/>
<circle cx="335" cy="246.9" r="14.3"/>
<circle cx="340" cy="247" r="14.3"/>
<circle cx="368.7" cy="298.5" r="14.3"/>
<circle cx="380" cy="327.4" r="14.3"/>
<circle cx="384" cy="331" r="14.3"/>
<circle cx="386" cy="351.2" r="14.3"/>
<circle cx="394" cy="387.4" r="14.3"/>
<circle cx="399.8" cy="423" r="14.3"/>
<circle cx="410.3" cy="462.2" r="14.3"/>
<circle cx="413" cy="479.5" r="14.3"/>
<circle cx="426.5" cy="580" r="14.3"/>
<circle cx="431" cy="583" r="14.3"/>
<circle cx="438" cy="593" r="14.3"/>
<circle cx="444.4" cy="593" r="14.3"/>
<circle cx="447.8" cy="625" r="14.3"/>
<circle cx="451.8" cy="651.3" r="14.3"/>
<circle cx="453.3" cy="720.8" r="14.3"/>
<circle cx="472.5" cy="834.6" r="14.3"/>
<circle cx="482" cy="889" r="14.3"/>
<circle cx="510.2" cy="914.6" r="14.3"/>
<circle cx="514" cy="957" r="14.3"/>
<circle cx="519.6" cy="982.5" r="14.3"/>
<circle cx="531.9" cy="1020.2" r="14.3"/>
<circle cx="551.7" cy="1039" r="14.3"/>
<circle cx="573.3" cy="1063.5" r="14.3"/>
<circle cx="606.3" cy="1093.6" r="14.3"/>
<circle cx="635.5" cy="1166" r="14.3"/>
<circle cx="671.2" cy="1185.8" r="14.3"/>
<circle cx="704.2" cy="1262.1" r="14.3"/>
<circle cx="834.2" cy="1427" r="14.3"/>
<circle cx="897.4" cy="1465.2" r="14.3"/>
<circle cx="960.7" cy="1503.5" r="14.3"/>
<circle cx="1095.5" cy="1518.8" r="14.3"/>
<circle cx="1212.7" cy="1541.8" r="14.3"/>
<circle cx="1244" cy="1541.8" r="14.3"/>
<circle cx="1338" cy="1541.8" r="14.3"/>
<circle cx="1401.7" cy="1541.8" r="14.3"/>
<circle cx="1407.8" cy="1541.8" r="14.3"/>
<circle cx="1590.8" cy="1557.3" r="14.3"/>
<circle cx="1697.5" cy="1557.3" r="14.3"/>
<circle cx="1805.2" cy="1557.3" r="14.3"/>
<circle cx="1930" cy="1557.3" r="14.3"/>
</g>
<polyline points="268.2,246 273.8,246 279.5,247 288.6,248 303.5,249 309.1,249 314.8,249 321.8,249.5 328.9,249.5 334.6,249.5 340.2,249.5 347.3,249.5 352.9,249.5 362.8,251 369.2,251 374.8,251 381.2,251.5 386.8,251.5 398,251.5 409.5,251 422.2,251 434.2,253.6 438.4,255.8 457.5,260.7 464,267.6 469,312 488.5,429.6 507.3,1197.6 557.9,1499 566,1500 570,1500 574,1500 577,1500 583.3,1504.5 596.1,1504.5 608.6,1509.5 645.9,1509.8 658.4,1509.8 671.5,1509.8 692.6,1517.4 709.6,1517.4 728.5,1517.4 746.6,1517.4 790.6,1517.4 816.2,1517.4 846.8,1518 876.5,1518 910.8,1518 1023.5,1518 1212.7,1518 1370.1,1529 1915,1528 1991,1528 2067.7,1528 2072,1518 2088,1515" fill="none" stroke="#00f" stroke-width="2.8" stroke-linejoin="round"/>
<g fill="none" stroke="#00f" stroke-width="3">
<polygon points="268.2,224.4 250.2,256.8 286.2,256.8"/>
<polygon points="273.8,224.4 255.8,256.8 291.8,256.8"/>
<polygon points="279.5,225.4 261.5,257.8 297.5,257.8"/>
<polygon points="288.6,226.4 270.6,258.8 306.6,258.8"/>
<polygon points="303.5,227.4 285.5,259.8 321.5,259.8"/>
<polygon points="309.1,227.4 291.1,259.8 327.1,259.8"/>
<polygon points="314.8,227.4 296.8,259.8 332.8,259.8"/>
<polygon points="321.8,227.9 303.8,260.3 339.8,260.3"/>
<polygon points="328.9,227.9 310.9,260.3 346.9,260.3"/>
<polygon points="334.6,227.9 316.6,260.3 352.6,260.3"/>
<polygon points="340.2,227.9 322.2,260.3 358.2,260.3"/>
<polygon points="347.3,227.9 329.3,260.3 365.3,260.3"/>
<polygon points="352.9,227.9 334.9,260.3 370.9,260.3"/>
<polygon points="362.8,229.4 344.8,261.8 380.8,261.8"/>
<polygon points="369.2,229.4 351.2,261.8 387.2,261.8"/>
<polygon points="374.8,229.4 356.8,261.8 392.8,261.8"/>
<polygon points="381.2,229.9 363.2,262.3 399.2,262.3"/>
<polygon points="386.8,229.9 368.8,262.3 404.8,262.3"/>
<polygon points="398,229.9 380,262.3 416,262.3"/>
<polygon points="409.5,229.4 391.5,261.8 427.5,261.8"/>
<polygon points="422.2,229.4 404.2,261.8 440.2,261.8"/>
<polygon points="434.2,232 416.2,264.4 452.2,264.4"/>
<polygon points="438.4,234.2 420.4,266.6 456.4,266.6"/>
<polygon points="457.5,239.1 439.5,271.5 475.5,271.5"/>
<polygon points="464,246 446,278.4 482,278.4"/>
<polygon points="469,290.4 451,322.8 487,322.8"/>
<polygon points="488.5,408 470.5,440.4 506.5,440.4"/>
<polygon points="507.3,1176 489.3,1208.4 525.3,1208.4"/>
<polygon points="557.9,1477.4 539.9,1509.8 575.9,1509.8"/>
<polygon points="566,1478.4 548,1510.8 584,1510.8"/>
<polygon points="570,1478.4 552,1510.8 588,1510.8"/>
<polygon points="574,1478.4 556,1510.8 592,1510.8"/>
<polygon points="577,1478.4 559,1510.8 595,1510.8"/>
<polygon points="583.3,1482.9 565.3,1515.3 601.3,1515.3"/>
<polygon points="596.1,1482.9 578.1,1515.3 614.1,1515.3"/>
<polygon points="608.6,1487.9 590.6,1520.3 626.6,1520.3"/>
<polygon points="645.9,1488.2 627.9,1520.6 663.9,1520.6"/>
<polygon points="658.4,1488.2 640.4,1520.6 676.4,1520.6"/>
<polygon points="671.5,1488.2 653.5,1520.6 689.5,1520.6"/>
<polygon points="692.6,1495.8 674.6,1528.2 710.6,1528.2"/>
<polygon points="709.6,1495.8 691.6,1528.2 727.6,1528.2"/>
<polygon points="728.5,1495.8 710.5,1528.2 746.5,1528.2"/>
<polygon points="746.6,1495.8 728.6,1528.2 764.6,1528.2"/>
<polygon points="790.6,1495.8 772.6,1528.2 808.6,1528.2"/>
<polygon points="816.2,1495.8 798.2,1528.2 834.2,1528.2"/>
<polygon points="846.8,1496.4 828.8,1528.8 864.8,1528.8"/>
<polygon points="876.5,1496.4 858.5,1528.8 894.5,1528.8"/>
<polygon points="910.8,1496.4 892.8,1528.8 928.8,1528.8"/>
<polygon points="1023.5,1496.4 1005.5,1528.8 1041.5,1528.8"/>
<polygon points="1212.7,1496.4 1194.7,1528.8 1230.7,1528.8"/>
<polygon points="1370.1,1507.4 1352.1,1539.8 1388.1,1539.8"/>
<polygon points="1915,1506.4 1897,1538.8 1933,1538.8"/>
<polygon points="1991,1506.4 1973,1538.8 2009,1538.8"/>
<polygon points="2067.7,1506.4 2049.7,1538.8 2085.7,1538.8"/>
<polygon points="2072,1496.4 2054,1528.8 2090,1528.8"/>
<polygon points="2088,1493.4 2070,1525.8 2106,1525.8"/>
</g>
<polyline points="268,246 272.4,246.2 276.6,249 280.9,251.8 285.1,252.5 289.3,253.2 294,255.6 298.8,257.9 303.5,260.3 307.8,256.1 312,251.8 316.2,249 320.4,246.2 324.7,250.1 329,253.9 333.9,252.9 338.8,251.8 346,251.5 354.3,251.1 362.8,244.7 371,245.5 379.8,246.2 387,253 393.9,260.3 403.8,256 412,258 418,264 425.7,270.5 434,291.6 439,301.8 445,308 451,313 457.1,318.8 466.1,329.8 475.8,341 489.5,362.6 501.6,385.7 501.3,398.6 544.7,459.8 548.1,474.7 549.3,479.3 562.5,489.7 568.3,501.3 575,501.6 584,522.3 595.8,551.5 613.7,601.3 625.1,652.9 629.5,665.1 635.2,678.8 652.5,704.3 658,728.8 690,775 727.6,806 740.3,856 746.3,881.4 752.9,906.9 759.4,945.2 771.8,963 816,1029.8 835,1034.9 853.6,1077.1 885.7,1112.3 912.4,1158.9 929.4,1175 951.3,1187.7 968.2,1199.9 991.9,1238.4 1036.2,1263.8 1068.4,1277 1093.3,1301.7 1134.2,1314.5 1225.2,1322.5 1281.7,1340.3 1402,1365.8 1653.3,1417 1779.8,1426.5" fill="none" stroke="#36AD6A" stroke-width="2.8" stroke-linejoin="round"/>
<g fill="#fff" stroke="#36AD6A" stroke-width="3">
<polygon points="268,267.6 250,235.2 286,235.2"/>
<polygon points="272.4,267.8 254.4,235.4 290.4,235.4"/>
<polygon points="276.6,270.6 258.6,238.2 294.6,238.2"/>
<polygon points="280.9,273.4 262.9,241 298.9,241"/>
<polygon points="285.1,274.1 267.1,241.7 303.1,241.7"/>
<polygon points="289.3,274.8 271.3,242.4 307.3,242.4"/>
<polygon points="294,277.2 276,244.8 312,244.8"/>
<polygon points="298.8,279.5 280.8,247.1 316.8,247.1"/>
<polygon points="303.5,281.9 285.5,249.5 321.5,249.5"/>
<polygon points="307.8,277.7 289.8,245.2 325.8,245.2"/>
<polygon points="312,273.4 294,241 330,241"/>
<polygon points="316.2,270.6 298.2,238.2 334.2,238.2"/>
<polygon points="320.4,267.8 302.4,235.4 338.4,235.4"/>
<polygon points="324.7,271.7 306.7,239.2 342.7,239.2"/>
<polygon points="329,275.5 311,243.1 347,243.1"/>
<polygon points="333.9,274.5 315.9,242.1 351.9,242.1"/>
<polygon points="338.8,273.4 320.8,241 356.8,241"/>
<polygon points="346,273.1 328,240.7 364,240.7"/>
<polygon points="354.3,272.7 336.3,240.3 372.3,240.3"/>
<polygon points="362.8,266.3 344.8,233.9 380.8,233.9"/>
<polygon points="371,267.1 353,234.7 389,234.7"/>
<polygon points="379.8,267.8 361.8,235.4 397.8,235.4"/>
<polygon points="387,274.6 369,242.2 405,242.2"/>
<polygon points="393.9,281.9 375.9,249.5 411.9,249.5"/>
<polygon points="403.8,277.6 385.8,245.2 421.8,245.2"/>
<polygon points="412,279.6 394,247.2 430,247.2"/>
<polygon points="418,285.6 400,253.2 436,253.2"/>
<polygon points="425.7,292.1 407.7,259.7 443.7,259.7"/>
<polygon points="434,313.2 416,280.8 452,280.8"/>
<polygon points="439,323.4 421,291 457,291"/>
<polygon points="445,329.6 427,297.2 463,297.2"/>
<polygon points="451,334.6 433,302.2 469,302.2"/>
<polygon points="457.1,340.4 439.1,308 475.1,308"/>
<polygon points="466.1,351.4 448.1,319 484.1,319"/>
<polygon points="475.8,362.6 457.8,330.2 493.8,330.2"/>
<polygon points="489.5,384.2 471.5,351.8 507.5,351.8"/>
<polygon points="501.6,407.3 483.6,374.9 519.6,374.9"/>
<polygon points="501.3,420.2 483.3,387.8 519.3,387.8"/>
<polygon points="544.7,481.4 526.7,449 562.7,449"/>
<polygon points="548.1,496.3 530.1,463.9 566.1,463.9"/>
<polygon points="549.3,500.9 531.3,468.5 567.3,468.5"/>
<polygon points="562.5,511.3 544.5,478.9 580.5,478.9"/>
<polygon points="568.3,522.9 550.3,490.5 586.3,490.5"/>
<polygon points="575,523.2 557,490.8 593,490.8"/>
<polygon points="584,543.9 566,511.5 602,511.5"/>
<polygon points="595.8,573.1 577.8,540.7 613.8,540.7"/>
<polygon points="613.7,622.9 595.7,590.5 631.7,590.5"/>
<polygon points="625.1,674.5 607.1,642.1 643.1,642.1"/>
<polygon points="629.5,686.7 611.5,654.3 647.5,654.3"/>
<polygon points="635.2,700.4 617.2,668 653.2,668"/>
<polygon points="652.5,725.9 634.5,693.5 670.5,693.5"/>
<polygon points="658,750.4 640,718 676,718"/>
<polygon points="690,796.6 672,764.2 708,764.2"/>
<polygon points="727.6,827.6 709.6,795.2 745.6,795.2"/>
<polygon points="740.3,877.6 722.3,845.2 758.3,845.2"/>
<polygon points="746.3,903 728.3,870.6 764.3,870.6"/>
<polygon points="752.9,928.5 734.9,896.1 770.9,896.1"/>
<polygon points="759.4,966.8 741.4,934.4 777.4,934.4"/>
<polygon points="771.8,984.6 753.8,952.2 789.8,952.2"/>
<polygon points="816,1051.4 798,1019 834,1019"/>
<polygon points="835,1056.5 817,1024.1 853,1024.1"/>
<polygon points="853.6,1098.7 835.6,1066.3 871.6,1066.3"/>
<polygon points="885.7,1133.9 867.7,1101.5 903.7,1101.5"/>
<polygon points="912.4,1180.5 894.4,1148.1 930.4,1148.1"/>
<polygon points="929.4,1196.6 911.4,1164.2 947.4,1164.2"/>
<polygon points="951.3,1209.3 933.3,1176.9 969.3,1176.9"/>
<polygon points="968.2,1221.5 950.2,1189.1 986.2,1189.1"/>
<polygon points="991.9,1260 973.9,1227.6 1009.9,1227.6"/>
<polygon points="1036.2,1285.4 1018.2,1253 1054.2,1253"/>
<polygon points="1068.4,1298.6 1050.4,1266.2 1086.4,1266.2"/>
<polygon points="1093.3,1323.3 1075.3,1290.9 1111.3,1290.9"/>
<polygon points="1134.2,1336.1 1116.2,1303.7 1152.2,1303.7"/>
<polygon points="1225.2,1344.1 1207.2,1311.7 1243.2,1311.7"/>
<polygon points="1281.7,1361.9 1263.7,1329.5 1299.7,1329.5"/>
<polygon points="1402,1387.4 1384,1355 1420,1355"/>
<polygon points="1653.3,1438.6 1635.3,1406.2 1671.3,1406.2"/>
<polygon points="1779.8,1448.1 1761.8,1415.7 1797.8,1415.7"/>
</g>
<g stroke="#000" stroke-width="5.7" fill="none" stroke-linecap="square">
<line x1="268" y1="245" x2="268" y2="1872.7"/>
<line x1="268" y1="1872.7" x2="2257" y2="1872.7"/>
<line x1="2257" y1="245" x2="2257" y2="1872.7"/>
<line x1="268" y1="245" x2="1842.5" y2="245" stroke-linecap="butt"/>
<line x1="1877" y1="245" x2="2257" y2="245" stroke-linecap="butt"/>
</g>
<g stroke="#000" stroke-width="5.7" stroke-linecap="butt">
<line x1="1822" y1="273.8" x2="1863" y2="216.1"/>
<line x1="1856.6" y1="273.8" x2="1897.1" y2="216.1"/>
</g>
<g stroke="#000" stroke-width="5.7" stroke-linecap="butt">
<line x1="582.2" y1="245" x2="582.2" y2="259.5"/>
<line x1="897.2" y1="245" x2="897.2" y2="274"/>
<line x1="1212.2" y1="245" x2="1212.2" y2="259.5"/>
<line x1="1527.2" y1="245" x2="1527.2" y2="274"/>
<line x1="2067" y1="245" x2="2067" y2="259.5"/>
<line x1="268" y1="372.1" x2="282.5" y2="372.1"/>
<line x1="268" y1="499.2" x2="297" y2="499.2"/>
<line x1="268" y1="626.3" x2="282.5" y2="626.3"/>
<line x1="268" y1="753.4" x2="297" y2="753.4"/>
<line x1="268" y1="880.5" x2="282.5" y2="880.5"/>
<line x1="268" y1="1007.6" x2="297" y2="1007.6"/>
<line x1="268" y1="1134.7" x2="282.5" y2="1134.7"/>
<line x1="268" y1="1261.8" x2="297" y2="1261.8"/>
<line x1="268" y1="1388.9" x2="282.5" y2="1388.9"/>
<line x1="268" y1="1516.0" x2="297" y2="1516.0"/>
<line x1="268" y1="1643.1" x2="282.5" y2="1643.1"/>
<line x1="268" y1="1770.2" x2="297" y2="1770.2"/>
</g>
<g font-size="80">
<text x="268" y="194" text-anchor="middle">0</text>
<text x="897.2" y="194" text-anchor="middle">10</text>
<text x="1527.2" y="194" text-anchor="middle">20</text>
<text x="2258" y="194" text-anchor="middle">60</text>
<text x="237" y="269.5" text-anchor="end">0</text>
<text x="237" y="523.7" text-anchor="end">10</text>
<text x="237" y="777.9" text-anchor="end">20</text>
<text x="237" y="1032.1" text-anchor="end">30</text>
<text x="237" y="1286.3" text-anchor="end">40</text>
<text x="237" y="1540.5" text-anchor="end">50</text>
<text x="237" y="1794.7" text-anchor="end">60</text>
</g>
<text x="760" y="93" font-size="87" textLength="1007" lengthAdjust="spacingAndGlyphs">Vertical displacement / mm</text>
<text transform="translate(84,1519) rotate(-90)" x="0" y="0" font-size="86" textLength="981" lengthAdjust="spacingAndGlyphs">Lateral displacement/ mm</text>
<rect x="377.8" y="1622.4" width="1751.6" height="184" fill="#fff" stroke="#000" stroke-width="3"/>
<line x1="377" y1="1666.5" x2="550" y2="1666.5" stroke="#000" stroke-width="2.2"/>
<g fill="#000"><rect x="448.2" y="1651.2" width="30.5" height="30.5"/></g>
<text x="587.4" y="1693" font-size="74" textLength="229.5" lengthAdjust="spacingAndGlyphs">T-1(L1)</text>
<line x1="377" y1="1762" x2="550" y2="1762" stroke="#000" stroke-width="2.2"/>
<g fill="#fff" stroke="#000" stroke-width="3"><rect x="450.5" y="1749" width="26" height="26"/></g>
<text x="587.4" y="1789" font-size="74" textLength="229.5" lengthAdjust="spacingAndGlyphs">T-1(L2)</text>
<line x1="833" y1="1666.5" x2="1006" y2="1666.5" stroke="#f00" stroke-width="2.2"/>
<g fill="#f00"><circle cx="920" cy="1666.5" r="15.8"/></g>
<text x="1022.4" y="1693" font-size="74" textLength="229.5" lengthAdjust="spacingAndGlyphs">T-2(L1)</text>
<line x1="833" y1="1762" x2="1006" y2="1762" stroke="#f00" stroke-width="2.2"/>
<g fill="#fff" stroke="#f00" stroke-width="3.2"><circle cx="920" cy="1762" r="14.3"/></g>
<text x="1022.4" y="1789" font-size="74" textLength="229.5" lengthAdjust="spacingAndGlyphs">T-2(L2)</text>
<line x1="1273" y1="1666.5" x2="1446" y2="1666.5" stroke="#00f" stroke-width="2.2"/>
<g fill="#00f"><polygon points="1359,1641.9 1338.5,1678.8 1379.5,1678.8"/></g>
<text x="1464.4" y="1693" font-size="74" textLength="229.5" lengthAdjust="spacingAndGlyphs">T-3(L1)</text>
<line x1="1273" y1="1762" x2="1446" y2="1762" stroke="#00f" stroke-width="2.2"/>
<g fill="none" stroke="#00f" stroke-width="3"><polygon points="1359,1740.4 1341,1772.8 1377,1772.8"/></g>
<text x="1464.4" y="1789" font-size="74" textLength="229.5" lengthAdjust="spacingAndGlyphs">T-3(L2)</text>
<line x1="1710" y1="1666.5" x2="1883" y2="1666.5" stroke="#36AD6A" stroke-width="2.2"/>
<g fill="#36AD6A"><polygon points="1796.4,1691.1 1775.9,1654.2 1816.9,1654.2"/></g>
<text x="1900.4" y="1693" font-size="74" textLength="229.5" lengthAdjust="spacingAndGlyphs">T-4(L1)</text>
<line x1="1710" y1="1762" x2="1883" y2="1762" stroke="#36AD6A" stroke-width="2.2"/>
<g fill="#fff" stroke="#36AD6A" stroke-width="3"><polygon points="1796.4,1783.6 1778.4,1751.2 1814.4,1751.2"/></g>
<text x="1900.4" y="1789" font-size="74" textLength="229.5" lengthAdjust="spacingAndGlyphs">T-4(L2)</text>
</svg></body></html>
